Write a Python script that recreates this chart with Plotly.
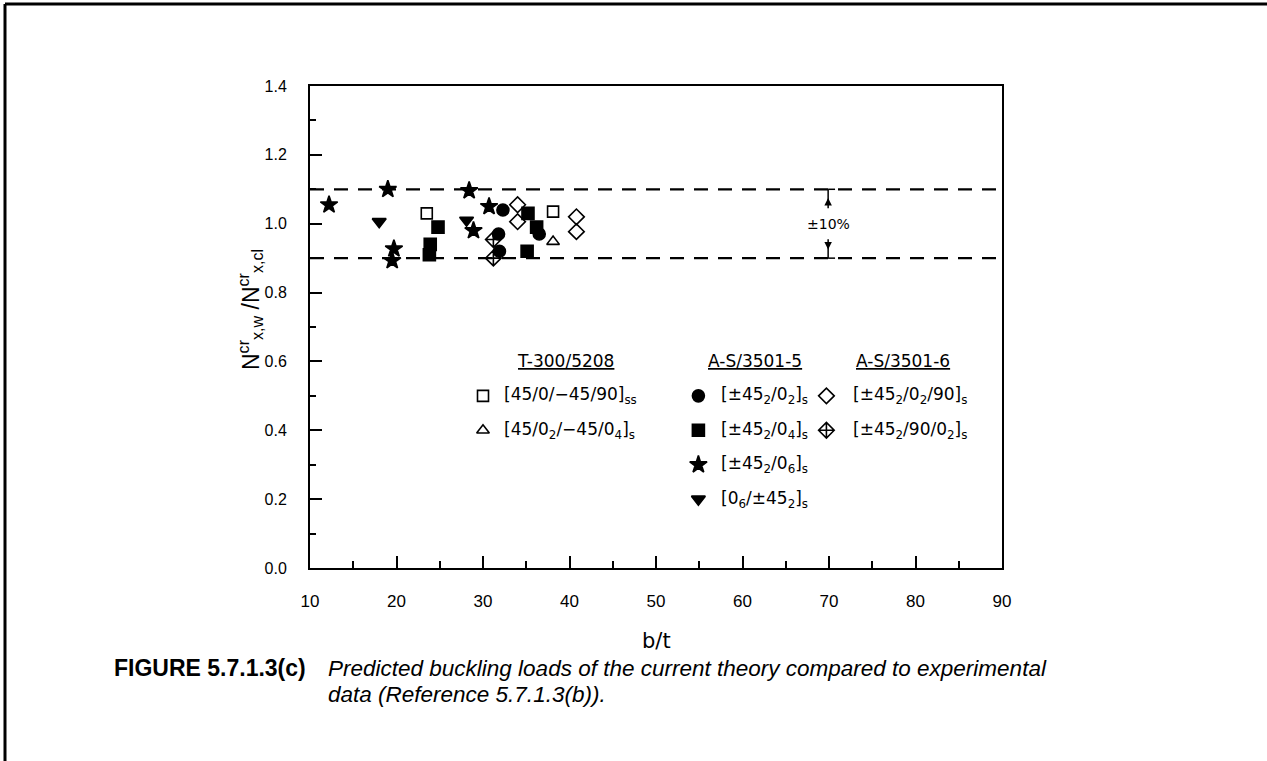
import plotly.graph_objects as go

# ---- data (b/t, N_x,w^cr / N_x,cl^cr) ----
t300_ss_x = [23.5, 38.1]
t300_ss_y = [1.03, 1.035]
t300_s_x = [38.1]
t300_s_y = [0.948]

as5_a_x = [32.3, 31.8, 31.9, 36.5]
as5_a_y = [1.04, 0.97, 0.92, 0.97]
as5_b_x = [24.8, 23.9, 23.8, 35.2, 36.2, 35.1]
as5_b_y = [0.99, 0.94, 0.91, 1.03, 0.99, 0.92]
as5_c_x = [12.2, 19.0, 19.7, 19.5, 28.4, 30.7, 28.9]
as5_c_y = [1.055, 1.10, 0.927, 0.893, 1.096, 1.05, 0.98]
as5_d_x = [18.0, 28.1]
as5_d_y = [1.006, 1.01]

as6_a_x = [34.0, 34.0, 40.8, 40.8]
as6_a_y = [1.055, 1.006, 1.02, 0.977]
as6_b_x = [31.2, 31.2]
as6_b_y = [0.954, 0.90]

band = [0.9, 1.1]
x_range = [10, 90]
y_range = [0.0, 1.4]

groups = ["T-300/5208", "A-S/3501-5", "A-S/3501-6"]
labels = [
    ["[45/0/\u221245/90]<sub>ss</sub>", "[45/0<sub>2</sub>/\u221245/0<sub>4</sub>]<sub>s</sub>"],
    ["[\u00b145<sub>2</sub>/0<sub>2</sub>]<sub>s</sub>", "[\u00b145<sub>2</sub>/0<sub>4</sub>]<sub>s</sub>",
     "[\u00b145<sub>2</sub>/0<sub>6</sub>]<sub>s</sub>", "[0<sub>6</sub>/\u00b145<sub>2</sub>]<sub>s</sub>"],
    ["[\u00b145<sub>2</sub>/0<sub>2</sub>/90]<sub>s</sub>", "[\u00b145<sub>2</sub>/90/0<sub>2</sub>]<sub>s</sub>"],
]

# ---- styling ----
W, H = 1267, 761
L, R, T, B = 310, 1002, 86, 568  # plot frame in pixels
FONT = "Liberation Sans"
PLOTTER = "DejaVu Sans"
INK = "#000000"

symbols = [
    ["square-open", "triangle-up-open"],
    ["circle", "square", "star", "triangle-down"],
    ["diamond-open", "diamond-cross-open"],
]
series = [
    [(t300_ss_x, t300_ss_y), (t300_s_x, t300_s_y)],
    [(as5_a_x, as5_a_y), (as5_b_x, as5_b_y), (as5_c_x, as5_c_y), (as5_d_x, as5_d_y)],
    [(as6_a_x, as6_a_y), (as6_b_x, as6_b_y)],
]
sizes = {"square-open": 11, "triangle-up-open": 11, "circle": 12, "square": 12,
         "star": 13, "triangle-down": 12, "diamond-open": 12, "diamond-cross-open": 12}

# legend layout (data coordinates)
leg_sym_x = [30.0, 54.9, 69.7]
leg_txt_x = [32.2, 57.3, 72.5]
leg_head_x = [39.5, 61.5, 78.5]
leg_head_y = 0.60
leg_row_y = [0.50, 0.40, 0.30, 0.20]


def px(x):
    return (x - L) / (R - L)


def py(y):
    return (B - y) / (B - T)


fig = go.Figure()

for g, grp in enumerate(series):
    for k, (xs, ys) in enumerate(grp):
        sym = symbols[g][k]
        fig.add_trace(go.Scatter(
            x=xs, y=ys, mode="markers", showlegend=False, cliponaxis=False,
            marker=dict(symbol=sym, size=sizes[sym], color=INK, line=dict(color=INK, width=1.6)),
        ))
        # legend symbol
        fig.add_trace(go.Scatter(
            x=[leg_sym_x[g]], y=[leg_row_y[k]], mode="markers", showlegend=False,
            marker=dict(symbol=sym, size=sizes[sym], color=INK, line=dict(color=INK, width=1.6)),
        ))
        fig.add_annotation(x=leg_txt_x[g], y=leg_row_y[k], text=labels[g][k], showarrow=False,
                           xanchor="left", yanchor="middle", font=dict(family=PLOTTER, size=17, color=INK))
    fig.add_annotation(x=leg_head_x[g], y=leg_head_y, text="<u>" + groups[g] + "</u>", showarrow=False,
                       xanchor="center", yanchor="middle", font=dict(family=PLOTTER, size=17, color=INK))

# +/-10% band
for yv in band:
    fig.add_shape(type="line", x0=x_range[0], x1=x_range[1], y0=yv, y1=yv,
                  line=dict(color=INK, width=2.2, dash="14px,10px"))

# bracket with arrows
bx = 69.9
fig.add_shape(type="line", x0=bx, x1=bx, y0=band[1], y1=1.045, line=dict(color=INK, width=1.5))
fig.add_shape(type="line", x0=bx, x1=bx + 0.8, y0=band[1], y1=band[1], line=dict(color=INK, width=1.5))
fig.add_shape(type="line", x0=bx, x1=bx, y0=band[0], y1=0.955, line=dict(color=INK, width=1.5))
fig.add_shape(type="line", x0=bx, x1=bx + 0.8, y0=band[0], y1=band[0], line=dict(color=INK, width=1.5))
fig.add_annotation(x=bx, y=1.075, ax=bx, ay=1.05, axref="x", ayref="y", text="", showarrow=True,
                   arrowhead=2, arrowsize=1, arrowwidth=1.5, arrowcolor=INK)
fig.add_annotation(x=bx, y=0.925, ax=bx, ay=0.95, axref="x", ayref="y", text="", showarrow=True,
                   arrowhead=2, arrowsize=1, arrowwidth=1.5, arrowcolor=INK)
fig.add_annotation(x=bx, y=1.0, text="\u00b110%", showarrow=False, xanchor="center", yanchor="middle",
                   font=dict(family=PLOTTER, size=14, color=INK))

# page border (top and left)
fig.add_shape(type="line", xref="paper", yref="paper", x0=px(5), x1=px(1267), y0=py(4), y1=py(4),
              line=dict(color=INK, width=3))
fig.add_shape(type="line", xref="paper", yref="paper", x0=px(5), x1=px(5), y0=py(4), y1=py(761),
              line=dict(color=INK, width=3))

# axis titles
fig.add_annotation(xref="paper", yref="paper", x=px(656), y=py(641), text="b/t", showarrow=False,
                   xanchor="center", yanchor="middle", font=dict(family=PLOTTER, size=21, color=INK))
fig.add_annotation(xref="paper", yref="paper", x=px(250), y=py(310), textangle=-90,
                   xanchor="center", yanchor="middle",
                   text="N<sup>cr</sup><sub>x,w</sub> /N<sup>cr</sup><sub>x,cl</sub>", showarrow=False,
                   font=dict(family=FONT, size=23, color=INK))

# caption
fig.add_annotation(xref="paper", yref="paper", x=px(112), y=py(668), xanchor="left", yanchor="middle",
                   text="<b>FIGURE 5.7.1.3(c)</b>", showarrow=False,
                   font=dict(family=FONT, size=23, color=INK))
fig.add_annotation(xref="paper", yref="paper", x=px(326), y=py(668), xanchor="left", yanchor="middle",
                   showarrow=False,
                   text="<i>Predicted buckling loads of the current theory compared to experimental</i>",
                   font=dict(family=FONT, size=22.5, color=INK))
fig.add_annotation(xref="paper", yref="paper", x=px(326), y=py(694), xanchor="left", yanchor="middle",
                   showarrow=False, text="<i>data (Reference 5.7.1.3(b)).</i>",
                   font=dict(family=FONT, size=22.5, color=INK))

fig.update_xaxes(range=x_range, dtick=10, showline=True, linewidth=2, linecolor=INK, mirror=True,
                 ticks="inside", ticklen=12, tickwidth=1.5, tickcolor=INK, showgrid=False, zeroline=False,
                 minor=dict(dtick=5, ticks="inside", ticklen=7, tickwidth=1.5, tickcolor=INK),
                 ticklabelstandoff=17, tickfont=dict(family=FONT, size=17, color=INK))
fig.update_yaxes(range=y_range, dtick=0.2, tickformat=".1f", showline=True, linewidth=2, linecolor=INK,
                 mirror=True, ticks="inside", ticklen=12, tickwidth=1.5, tickcolor=INK, showgrid=False,
                 zeroline=False,
                 minor=dict(dtick=0.1, ticks="inside", ticklen=6, tickwidth=1.5, tickcolor=INK),
                 ticklabelstandoff=18, tickfont=dict(family=FONT, size=16, color=INK))
fig.update_layout(width=W, height=H, margin=dict(l=L, r=W - R, t=T, b=H - B, autoexpand=False),
                  plot_bgcolor="white", paper_bgcolor="white", showlegend=False)

fig.write_html("out.html", config={"displayModeBar": False},
               post_script="document.body.style.margin='0';")
